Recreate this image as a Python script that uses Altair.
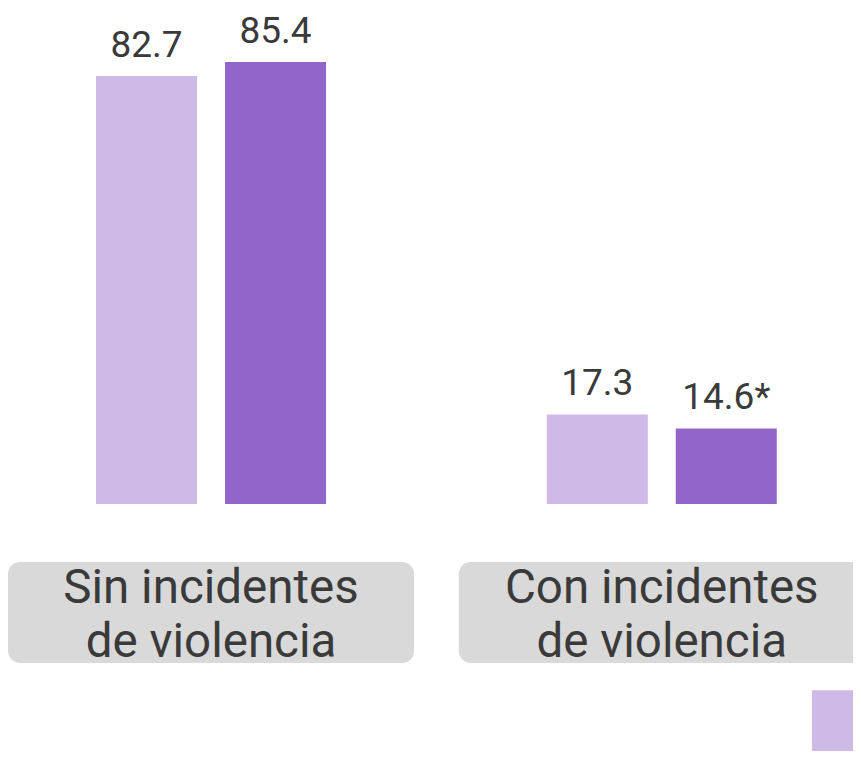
import altair as alt
import pandas as pd

categories = ["Sin incidentes\nde violencia", "Con incidentes\nde violencia"]
series = ["Grupo 1", "Grupo 2"]
values_s1 = [82.7, 17.3]
values_s2 = [85.4, 14.6]
labels_s1 = ["82.7", "17.3"]
labels_s2 = ["85.4", "14.6*"]
colors = ["#cfb9e7", "#9265c8"]

rows = []
for i, c in enumerate(categories):
    rows.append(dict(cat=c, serie=series[0], valor=values_s1[i], etiqueta=labels_s1[i]))
    rows.append(dict(cat=c, serie=series[1], valor=values_s2[i], etiqueta=labels_s2[i]))
df = pd.DataFrame(rows)
cats_df = pd.DataFrame({"cat": categories})

x = alt.X(
    "cat:N",
    sort=categories,
    scale=alt.Scale(paddingInner=0.4897, paddingOuter=0.1822, align=0.536),
    axis=alt.Axis(
        title=None, labelAngle=0, ticks=False, tickSize=0, domain=False,
        labelPadding=60, labelFontSize=47.5, labelFont="Roboto", labelColor="#3a3a3a",
        labelLineHeight=54, labelExpr="split(datum.label, '\\n')", zindex=1,
        labelLimit=1000, labelOverlap=False, labelBound=False,
    ),
)
xo = alt.XOffset("serie:N", sort=series, scale=alt.Scale(paddingInner=0.217, paddingOuter=0))
y = alt.Y("valor:Q", scale=alt.Scale(domain=[0, 95.85], nice=False, zero=True), axis=None)

boxes = alt.Chart(cats_df).mark_bar(width=406, cornerRadius=12, color="#d9d9d9").encode(
    x=x, y=alt.value(554), y2=alt.value(655)
)

bars = alt.Chart(df).mark_bar().encode(
    x=x,
    xOffset=xo,
    y=y,
    color=alt.Color(
        "serie:N",
        scale=alt.Scale(domain=series, range=colors),
        legend=alt.Legend(
            orient="none", legendX=804, legendY=687.5, title=None,
            symbolType="M-1,-1.22H1V1.22H-1Z", symbolSize=2500, symbolStrokeWidth=0,
            labelExpr="''", direction="horizontal", padding=0, symbolOpacity=1,
        ),
    ),
)

text = alt.Chart(df).mark_text(
    dy=-19, baseline="alphabetic", fontSize=37, font="Roboto", color="#3a3a3a"
).encode(x=x, xOffset=xo, y=y, text="etiqueta:N")

chart = (
    alt.layer(boxes, bars, text)
    .properties(
        width=845,
        height=496,
        autosize=alt.AutoSizeParams(type="none"),
        padding={"left": 0, "top": 0, "right": 0, "bottom": 247},
    )
    .configure_view(stroke=None)
)

chart.save("out.html", embed_options={"renderer": "svg", "actions": False})
